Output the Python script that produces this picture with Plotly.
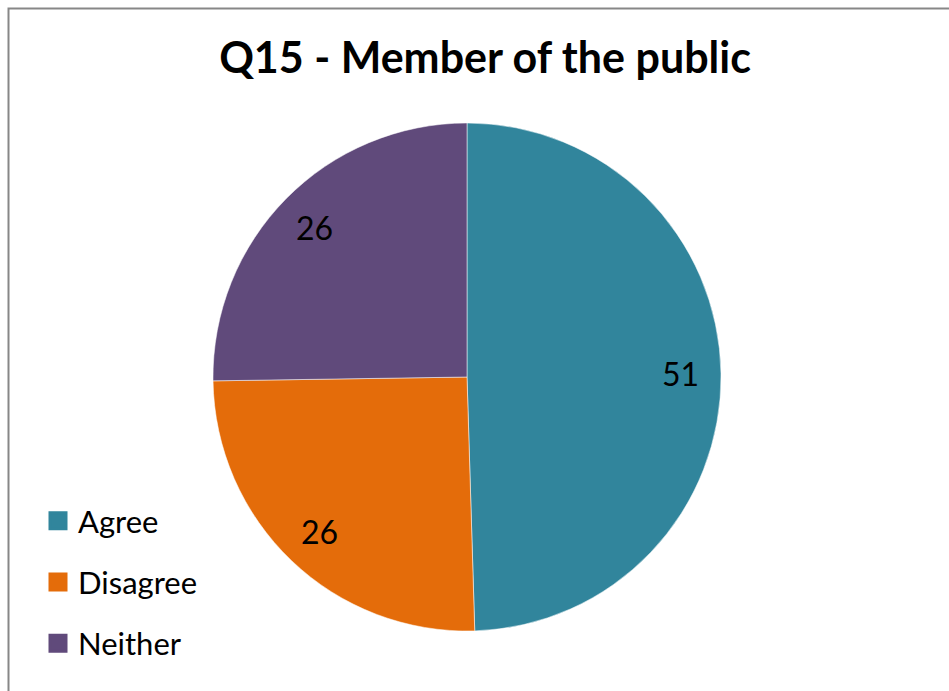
import math
import plotly.graph_objects as go

# Survey responses for Q15 (member of the public)
categories = ["Agree", "Disagree", "Neither"]
counts = [51, 26, 26]
colors = ["#31859C", "#E46C0A", "#604A7B"]

W, H = 949, 691
FONT = "Lato"

# pie geometry in pixels (centre and radius)
CX, CY, R = 467, 377, 254
LABEL_FRAC = 0.84

fig = go.Figure()
fig.add_trace(
    go.Pie(
        labels=categories,
        values=counts,
        sort=False,
        direction="clockwise",
        rotation=0,
        marker=dict(colors=colors, line=dict(color="rgba(255,255,255,0.5)", width=1)),
        textinfo="none",
        domain=dict(x=[(CX - R) / W, (CX + R) / W], y=[1 - (CY + R) / H, 1 - (CY - R) / H]),
        hoverinfo="label+value",
        showlegend=False,
    )
)

# legend entries as square markers, one group per category
for name, col in zip(categories, colors):
    fig.add_trace(
        go.Scatter(
            x=[None],
            y=[None],
            mode="markers",
            name=name,
            legendgroup=name,
            marker=dict(symbol="square", size=16, color=col, line=dict(color=col, width=3)),
            showlegend=True,
        )
    )

# value labels placed at each slice's mid-angle
annotations = []
total = sum(counts)
start = 0.0
for v in counts:
    mid = (start + v / 2) / total * 2 * math.pi
    start += v
    px = CX + R * LABEL_FRAC * math.sin(mid)
    py = CY - R * LABEL_FRAC * math.cos(mid)
    annotations.append(
        dict(
            x=px / W,
            y=1 - py / H,
            xref="paper",
            yref="paper",
            text=str(v),
            showarrow=False,
            font=dict(family=FONT, size=32, color="#000000"),
            xanchor="center",
            yanchor="middle",
        )
    )

fig.update_layout(
    width=W,
    height=H,
    margin=dict(l=0, r=0, t=0, b=0),
    paper_bgcolor="white",
    plot_bgcolor="white",
    xaxis=dict(visible=False),
    yaxis=dict(visible=False),
    title=dict(
        text="<b>Q15 - Member of the public</b>",
        x=485 / W,
        xanchor="center",
        y=1 - 58 / H,
        yanchor="middle",
        font=dict(family=FONT, size=43, color="#000000"),
    ),
    legend=dict(
        x=38 / W,
        xanchor="left",
        y=1 - 494 / H,
        yanchor="top",
        font=dict(family=FONT, size=31, color="#000000"),
        tracegroupgap=18,
        itemwidth=30,
        bgcolor="rgba(0,0,0,0)",
    ),
    annotations=annotations,
    shapes=[
        dict(
            type="rect",
            xref="paper",
            yref="paper",
            x0=8.5 / W,
            x1=1.05,
            y0=-0.05,
            y1=1 - 8.5 / H,
            line=dict(color="#878787", width=2),
            fillcolor="rgba(0,0,0,0)",
            layer="above",
        )
    ],
)

fig.write_html("out.html")
